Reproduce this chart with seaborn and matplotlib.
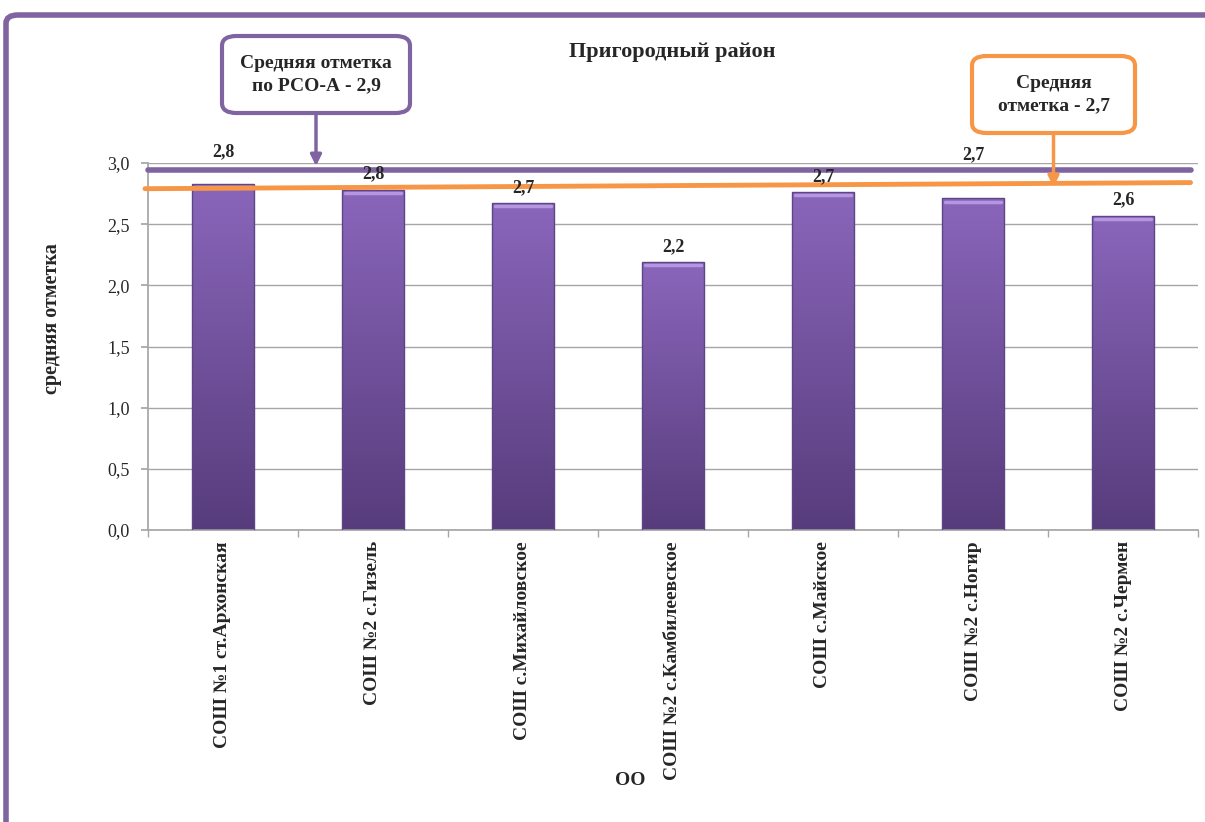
import numpy as np
import matplotlib as mpl
import matplotlib.pyplot as plt
import seaborn as sns
from matplotlib.patches import FancyBboxPatch
from matplotlib.colors import LinearSegmentedColormap

sns.set_theme(style="white")
mpl.rc('font', family=['Liberation Serif', 'DejaVu Serif'])
mpl.rc('axes', unicode_minus=False)

# данные
schools = ["СОШ №1 ст.Архонская", "СОШ №2 с.Гизель", "СОШ с.Михайловское",
           "СОШ №2 с.Камбилеевское", "СОШ с.Майское", "СОШ №2 с.Ногир",
           "СОШ №2 с.Чермен"]
marks = [2.83, 2.78, 2.67, 2.19, 2.76, 2.71, 2.57]
mark_labels = ["2,8", "2,8", "2,7", "2,2", "2,7", "2,7", "2,6"]
avg_region = 2.94      # средняя по РСО-А (линия)
avg_district = [2.79, 2.84]  # средняя по району (линия, слегка наклонена)

purple = "#8064a2"
orange = "#f79646"

fig = plt.figure(figsize=(12.05, 8.22), dpi=100)
ax = fig.add_axes([0.1228, 0.3552, 0.8714, 0.4465])

sns.barplot(x=schools, y=marks, color="#7a5aa8", width=0.41, ax=ax,
            saturation=1, edgecolor="none")

# градиент на столбиках
cmap = LinearSegmentedColormap.from_list("g", ["#573c7c", "#8a66bb"])
grad = np.linspace(0, 1, 256).reshape(-1, 1)
for p in ax.patches:
    x0, y0 = p.get_x(), p.get_y()
    w, h = p.get_width(), p.get_height()
    im = ax.imshow(grad, cmap=cmap, aspect="auto", origin="lower",
                   extent=[x0, x0 + w, y0, y0 + h], zorder=2)
    im.set_clip_path(p)
    p.set_facecolor("none")
    p.set_edgecolor("#5e4585")
    p.set_linewidth(1)
    p.set_zorder(3)
    ax.plot([x0 + 0.02, x0 + w - 0.02], [y0 + h - 0.025] * 2,
            color="#b596e0", lw=2.5, zorder=3)

ax.set_xlim(-0.5, 6.5)
ax.set_ylim(0, 3.0)
ticks = np.arange(0, 3.01, 0.5)
ax.set_yticks(ticks)
ax.set_yticklabels([f"{v:.1f}".replace(".", ",") for v in ticks], fontsize=13)
ax.yaxis.grid(True, color="#a6a6a6", lw=1)
ax.set_axisbelow(True)
for s in ["top", "right"]:
    ax.spines[s].set_visible(False)
for s in ["left", "bottom"]:
    ax.spines[s].set_color("#a6a6a6")
ax.tick_params(axis="y", left=True, length=5, color="#a6a6a6", pad=8)
ax.set_xticks(range(len(schools)))
ax.set_xticklabels(schools, rotation=90, fontsize=14, fontweight="bold")
ax.tick_params(axis="x", bottom=False, pad=2)
ax.set_xticks(np.arange(-0.5, 6.6, 1), minor=True)
ax.tick_params(axis="x", which="minor", bottom=True, length=5, color="#a6a6a6")

# линии средних
ax.plot([-0.5, 6.45], [avg_region, avg_region], color=purple, lw=4, zorder=4,
        clip_on=False)
ax.plot([-0.52, 6.45], avg_district, color=orange, lw=3.5, zorder=5,
        clip_on=False)

# подписи значений (у 1-го и 6-го столбика подписи вынесены выше линий)
offsets = {0: 0.19, 5: 0.29}
for i, (v, t) in enumerate(zip(marks, mark_labels)):
    ax.text(i, v + offsets.get(i, 0.06), t, ha="center", va="bottom",
            fontsize=13, fontweight="bold", zorder=6, clip_on=False)

ax.set_xlabel("ОО", fontsize=14, fontweight="bold")
ax.xaxis.set_label_coords((630 - 148) / 1050, -(772 - 530) / 367)
ax.set_ylabel("средняя отметка", fontsize=14.5, fontweight="bold")
ax.yaxis.set_label_coords(-(148 - 62) / 1050, (530 - 319) / 367)
fig.text(672 / 1205, 1 - 52 / 822, "Пригородный район", ha="center",
         va="center", fontsize=16, fontweight="bold")

# выноски
def callout(x0, y0, x1, y1, text, color, tip_y):
    box = FancyBboxPatch((x0 / 1205, 1 - y1 / 822), (x1 - x0) / 1205,
                         (y1 - y0) / 822,
                         boxstyle="round,pad=0,rounding_size=0.012",
                         transform=fig.transFigure, fc="white", ec=color, lw=3,
                         zorder=10)
    fig.patches.append(box)
    fig.text((x0 + x1) / 2 / 1205, 1 - (y0 + y1) / 2 / 822, text, ha="center",
             va="center", fontsize=14, fontweight="bold", linespacing=1.45,
             zorder=11)
    xc = (x0 + x1) / 2 / 1205
    fig.add_artist(mpl.patches.FancyArrowPatch(
        (xc, 1 - y1 / 822), (xc, 1 - tip_y / 822), transform=fig.transFigure,
        arrowstyle="-|>", color=color, lw=2.5, mutation_scale=16,
        shrinkA=0, shrinkB=0, zorder=9))

callout(222, 36, 410, 113, "Средняя отметка\nпо РСО-А - 2,9", purple, 166)
callout(972, 56, 1135, 133, "Средняя\nотметка - 2,7", orange, 187)

# рамка
frame = FancyBboxPatch((6 / 1205, -0.1), 1.2, 1 - 15 / 822 + 0.1,
                       boxstyle="round,pad=0,rounding_size=0.01",
                       transform=fig.transFigure, fc="none", ec=purple, lw=4,
                       zorder=0, clip_on=False)
fig.patches.append(frame)

fig.savefig("out.png", dpi=100)
